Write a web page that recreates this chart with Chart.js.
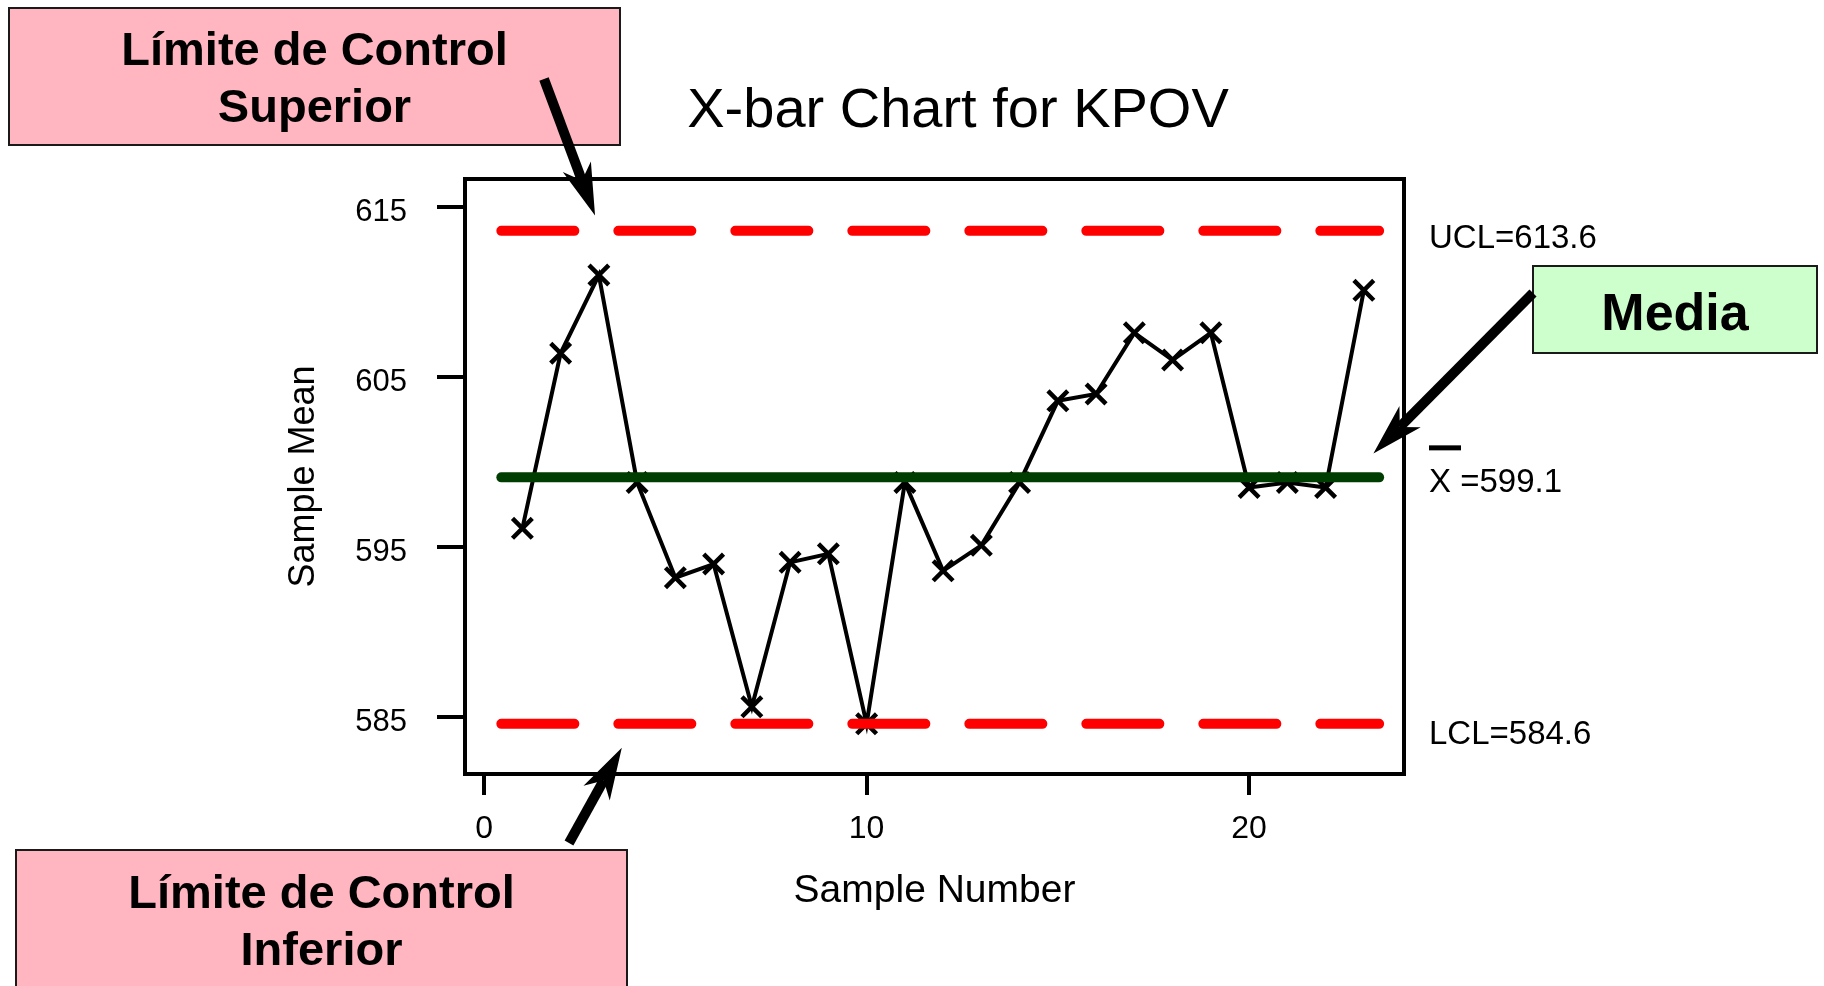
<!DOCTYPE html>
<html>
<head>
<meta charset="utf-8">
<title>X-bar Chart for KPOV</title>
<script src="https://cdn.jsdelivr.net/npm/chart.js@4.4.1/dist/chart.umd.min.js"></script>
<style>
  html, body { margin: 0; padding: 0; background: #fff; }
  canvas { display: block; }
</style>
</head>
<body>
<canvas id="chart" width="1824" height="986"></canvas>
<script>
// Sample means
const sampleNumbers = [1, 2, 3, 4, 5, 6, 7, 8, 9, 10, 11, 12, 13, 14, 15, 16, 17, 18, 19, 20, 21, 22, 23];
const sampleMeans = [596.1, 606.4, 611.0, 598.8, 593.2, 594.0, 585.6, 594.1, 594.6, 584.6, 598.8, 593.6,
                     595.1, 598.8, 603.6, 604.0, 607.6, 606.0, 607.6, 598.5, 598.8, 598.5, 610.1];

// Control limits
const UCL = 613.6;
const CENTER = 599.1;
const LCL = 584.6;
const limitSpan = [0.45, 23.4];

// Axes
const xTicks = [0, 10, 20];
const yTicks = [585, 595, 605, 615];
const xRange = [-0.5, 24.05];
const yRange = [581.65, 616.65];

const FONT = "'Liberation Sans', Arial, sans-serif";

function limitLine(v) {
  return limitSpan.map(x => ({ x: x, y: v }));
}

// Draw an arrow with a notched head
function arrow(ctx, x0, y0, x1, y1, width, headLen, headHalf) {
  const a = Math.atan2(y1 - y0, x1 - x0);
  const c = Math.cos(a), s = Math.sin(a);
  const bx = x1 - c * headLen, by = y1 - s * headLen;
  const nx = x1 - c * headLen * 0.72, ny = y1 - s * headLen * 0.72;
  ctx.lineWidth = width;
  ctx.lineCap = "butt";
  ctx.beginPath();
  ctx.moveTo(x0, y0);
  ctx.lineTo(nx, ny);
  ctx.stroke();
  ctx.beginPath();
  ctx.moveTo(x1, y1);
  ctx.lineTo(bx + s * headHalf, by - c * headHalf);
  ctx.lineTo(nx, ny);
  ctx.lineTo(bx - s * headHalf, by + c * headHalf);
  ctx.closePath();
  ctx.fill();
}

function box(ctx, x, y, w, h, fill, lines, font, baselines) {
  ctx.fillStyle = fill;
  ctx.fillRect(x, y, w, h);
  ctx.lineWidth = 2;
  ctx.strokeStyle = "#1a1a1a";
  ctx.strokeRect(x, y, w, h);
  ctx.fillStyle = "#000";
  ctx.font = font;
  ctx.textAlign = "center";
  ctx.textBaseline = "alphabetic";
  lines.forEach((t, i) => ctx.fillText(t, x + w / 2, baselines[i]));
}

// Frame, title, limit labels and the callouts
const annotate = {
  id: "annotate",
  afterDraw(chart) {
    const { ctx, chartArea: a, scales: { x, y } } = chart;
    ctx.save();

    // plot frame
    ctx.lineWidth = 4;
    ctx.strokeStyle = "#000";
    ctx.strokeRect(a.left, a.top, a.right - a.left, a.bottom - a.top);

    // title
    ctx.fillStyle = "#000";
    ctx.font = "56px " + FONT;
    ctx.textAlign = "center";
    ctx.textBaseline = "alphabetic";
    ctx.fillText("X-bar Chart for KPOV", 958, 127);

    // limit labels
    const lx = a.right + 25;
    ctx.font = "33px " + FONT;
    ctx.textAlign = "left";
    ctx.fillText("UCL=613.6", lx, y.getPixelForValue(UCL) + 17);
    ctx.fillText("X =599.1", lx, y.getPixelForValue(CENTER) + 15);
    ctx.fillRect(lx, y.getPixelForValue(CENTER) - 32, 32, 5);
    ctx.fillText("LCL=584.6", lx, y.getPixelForValue(LCL) + 20);

    // callout boxes
    const bold = "bold 47px " + FONT;
    box(ctx, 9, 8, 611, 137, "#ffb6c1", ["Límite de Control", "Superior"], bold, [65, 122]);
    box(ctx, 16, 850, 611, 150, "#ffb6c1", ["Límite de Control", "Inferior"], bold, [908, 965]);
    box(ctx, 1533, 266, 284, 87, "#ccffcc", ["Media"], "bold 52px " + FONT, [330]);

    // arrows
    ctx.fillStyle = "#000";
    ctx.strokeStyle = "#000";
    arrow(ctx, 544, 79, x.getPixelForValue(2.9), y.getPixelForValue(614.5), 10, 52, 15);
    arrow(ctx, 569, 843, x.getPixelForValue(3.6), y.getPixelForValue(583.2), 10, 52, 15);
    arrow(ctx, 1533, 293, x.getPixelForValue(23.25), y.getPixelForValue(600.5), 10, 52, 15);

    ctx.restore();
  }
};

const ctx = document.getElementById("chart").getContext("2d");
new Chart(ctx, {
  type: "scatter",
  data: {
    datasets: [
      {
        label: "UCL",
        data: limitLine(UCL),
        showLine: true,
        borderColor: "#ff0000",
        borderWidth: 10,
        borderDash: [73, 44],
        borderCapStyle: "round",
        pointRadius: 0,
        order: 0
      },
      {
        label: "Mean",
        data: limitLine(CENTER),
        showLine: true,
        borderColor: "#003d00",
        borderWidth: 10,
        borderCapStyle: "round",
        pointRadius: 0,
        order: 0
      },
      {
        label: "LCL",
        data: limitLine(LCL),
        showLine: true,
        borderColor: "#ff0000",
        borderWidth: 10,
        borderDash: [73, 44],
        borderCapStyle: "round",
        pointRadius: 0,
        order: 0
      },
      {
        label: "Sample Mean",
        data: sampleNumbers.map((n, i) => ({ x: n, y: sampleMeans[i] })),
        showLine: true,
        borderColor: "#000",
        borderWidth: 4,
        pointStyle: "crossRot",
        pointRadius: 14,
        pointBorderWidth: 4.5,
        pointBorderColor: "#000",
        order: 1
      }
    ]
  },
  options: {
    responsive: false,
    animation: false,
    devicePixelRatio: 1,
    layout: { padding: { top: 179, right: 420, bottom: 0, left: 0 } },
    plugins: {
      legend: { display: false },
      tooltip: { enabled: false },
      title: { display: false }
    },
    scales: {
      x: {
        type: "linear",
        min: xRange[0],
        max: xRange[1],
        afterBuildTicks: s => { s.ticks = xTicks.map(v => ({ value: v })); },
        afterFit: s => { s.height = 212; },
        border: { display: false },
        grid: { display: true, drawOnChartArea: false, tickLength: 21, lineWidth: 4, color: "#000" },
        ticks: { color: "#000", padding: 15, font: { family: FONT, size: 32 } },
        title: {
          display: true,
          text: "Sample Number",
          color: "#000",
          font: { family: FONT, size: 39 },
          padding: { top: 0, bottom: 71 }
        }
      },
      y: {
        type: "linear",
        min: yRange[0],
        max: yRange[1],
        afterBuildTicks: s => { s.ticks = yTicks.map(v => ({ value: v })); },
        afterFit: s => { s.width = 465; },
        border: { display: false },
        grid: { display: true, drawOnChartArea: false, tickLength: 28, lineWidth: 4, color: "#000" },
        ticks: { color: "#000", padding: 30, labelOffset: 5, font: { family: FONT, size: 31 } },
        title: {
          display: true,
          text: "Sample Mean",
          color: "#000",
          font: { family: FONT, size: 36 },
          padding: { top: 282, bottom: 0 }
        }
      }
    }
  },
  plugins: [annotate]
});
</script>
</body>
</html>
